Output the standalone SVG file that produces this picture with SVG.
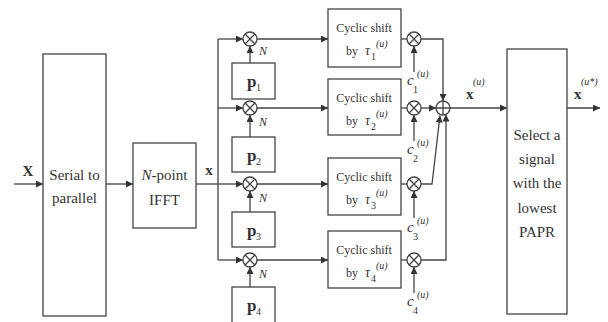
<svg xmlns="http://www.w3.org/2000/svg" width="608" height="322" viewBox="0 0 608 322" font-family="'Liberation Serif', 'Times New Roman', serif">
<defs>
<marker id="ah" viewBox="0 0 10 10" refX="10" refY="5" markerWidth="9" markerHeight="7" orient="auto" markerUnits="userSpaceOnUse"><path class="head" d="M0,0 L10,5 L0,10 z"/></marker>
<g id="mul"><circle cx="0" cy="0" r="7"/><path d="M-4.95,-4.95 L4.95,4.95 M-4.95,4.95 L4.95,-4.95"/></g>
<g id="add"><circle cx="0" cy="0" r="7"/><path d="M-7,0 H7 M0,-7 V7"/></g>
</defs>
<style>
rect, circle, path { fill: none; stroke: #444; stroke-width: 1.3; }
path.head { fill: #333; stroke: none; }
.c path { marker-end: url(#ah); }
.c path.n { marker-end: none; }
text { font-family: 'Liberation Serif', 'Times New Roman', Times, serif; fill: #333; }
.t { font-size: 15px; text-anchor: middle; }
.s { font-size: 12px; text-anchor: middle; }
.b { font-weight: bold; }
.i { font-style: italic; }
.sm { font-size: 10px; }
.N { font-size: 12px; font-style: italic; }
</style>
<rect width="608" height="322" style="fill:#fff;stroke:none"/>

<g id="connectors" class="c">
<path d="M14,184 H43"/>
<path d="M106,184 H133"/>
<path class="n" d="M196,184 H218"/>
<path class="n" d="M218,39 V260"/>
<path d="M218,39 H243"/>
<path d="M218,108 H243"/>
<path d="M218,184 H243"/>
<path d="M218,260 H243"/>
<path d="M250,63 V46"/>
<path d="M250,137 V115"/>
<path d="M250,212 V191"/>
<path d="M250,287 V267"/>
<path d="M257,39 H328"/>
<path d="M257,108 H328"/>
<path d="M257,184 H328"/>
<path d="M257,260 H328"/>
<path class="n" d="M401,39 H407"/>
<path class="n" d="M401,108 H407"/>
<path class="n" d="M401,184 H407"/>
<path class="n" d="M401,260 H407"/>
<path d="M414,72 V46"/>
<path d="M414,141 V115"/>
<path d="M414,218 V191"/>
<path d="M414,293 V267"/>
<path d="M421,39 H443 V101"/>
<path d="M421,108 H436"/>
<path d="M421,184 H432 L440,115.5"/>
<path d="M421,260 H446 V114.5"/>
<path d="M450,108 H507"/>
<path d="M567,108 H600"/>
</g>

<g id="input-label"><text class="t b" x="28" y="176">X</text></g>

<g id="serial-to-parallel">
<rect x="43" y="54" width="63" height="262"/>
<text class="t" x="74.5" y="180">Serial to</text>
<text class="t" x="74.5" y="203">parallel</text>
</g>

<g id="ifft">
<rect x="133" y="143" width="63" height="85"/>
<text class="t" x="164.5" y="180"><tspan class="i">N</tspan>-point</text>
<text class="t" x="164.5" y="205">IFFT</text>
<text class="t b" x="209" y="175">x</text>
</g>

<g id="mult1"><use href="#mul" x="250" y="39"/><text class="N" x="259" y="55">N</text></g>
<g id="mult2"><use href="#mul" x="250" y="108"/><text class="N" x="259" y="126">N</text></g>
<g id="mult3"><use href="#mul" x="250" y="184"/><text class="N" x="259" y="202">N</text></g>
<g id="mult4"><use href="#mul" x="250" y="260"/><text class="N" x="259" y="278">N</text></g>

<g id="p1"><rect x="232" y="63" width="43" height="36"/><text class="b" font-size="17" x="247" y="87">p</text><text class="sm" x="256" y="91">1</text></g>
<g id="p2"><rect x="232" y="137" width="43" height="35"/><text class="b" font-size="17" x="247" y="161">p</text><text class="sm" x="256" y="165">2</text></g>
<g id="p3"><rect x="232" y="212" width="43" height="35"/><text class="b" font-size="17" x="247" y="236">p</text><text class="sm" x="256" y="240">3</text></g>
<g id="p4"><rect x="232" y="287" width="43" height="36"/><text class="b" font-size="17" x="247" y="311">p</text><text class="sm" x="256" y="315">4</text></g>

<g id="shift1"><rect x="328" y="9" width="73" height="58"/>
<text class="s" x="364" y="32">Cyclic shift</text>
<text font-size="12" x="346" y="55">by</text><text font-size="14" class="i" x="365" y="55">τ</text><text class="sm" x="371" y="60">1</text><text class="sm i" x="376" y="47">(u)</text></g>
<g id="shift2"><rect x="328" y="79" width="73" height="56"/>
<text class="s" x="364" y="102">Cyclic shift</text>
<text font-size="12" x="346" y="125">by</text><text font-size="14" class="i" x="365" y="125">τ</text><text class="sm" x="371" y="130">2</text><text class="sm i" x="376" y="117">(u)</text></g>
<g id="shift3"><rect x="328" y="158" width="73" height="57"/>
<text class="s" x="364" y="181">Cyclic shift</text>
<text font-size="12" x="346" y="204">by</text><text font-size="14" class="i" x="365" y="204">τ</text><text class="sm" x="371" y="209">3</text><text class="sm i" x="376" y="196">(u)</text></g>
<g id="shift4"><rect x="328" y="231" width="73" height="57"/>
<text class="s" x="364" y="254">Cyclic shift</text>
<text font-size="12" x="346" y="277">by</text><text font-size="14" class="i" x="365" y="277">τ</text><text class="sm" x="371" y="282">4</text><text class="sm i" x="376" y="269">(u)</text></g>

<g id="cmul1"><use href="#mul" x="414" y="39"/><text class="i" font-size="15" x="407" y="85">c</text><text class="sm" x="413" y="93">1</text><text class="sm i" x="417" y="77">(u)</text></g>
<g id="cmul2"><use href="#mul" x="414" y="108"/><text class="i" font-size="15" x="407" y="154">c</text><text class="sm" x="413" y="162">2</text><text class="sm i" x="417" y="146">(u)</text></g>
<g id="cmul3"><use href="#mul" x="414" y="184"/><text class="i" font-size="15" x="407" y="232">c</text><text class="sm" x="413" y="240">3</text><text class="sm i" x="417" y="224">(u)</text></g>
<g id="cmul4"><use href="#mul" x="414" y="260"/><text class="i" font-size="15" x="407" y="306">c</text><text class="sm" x="413" y="314">4</text><text class="sm i" x="417" y="298">(u)</text></g>

<g id="adder"><use href="#add" x="443" y="108"/>
<text class="b" font-size="15" x="466" y="99">x</text><text class="sm i" x="473" y="85">(u)</text></g>

<g id="select">
<rect x="507" y="49" width="60" height="265"/>
<text class="t" x="537" y="140">Select a</text>
<text class="t" x="537" y="164">signal</text>
<text class="t" x="537" y="188">with the</text>
<text class="t" x="537" y="213">lowest</text>
<text class="t" x="537" y="237">PAPR</text>
</g>

<g id="output-label"><text class="b" font-size="15" x="574" y="99">x</text><text class="sm i" x="581" y="85">(u*)</text></g>
</svg>
